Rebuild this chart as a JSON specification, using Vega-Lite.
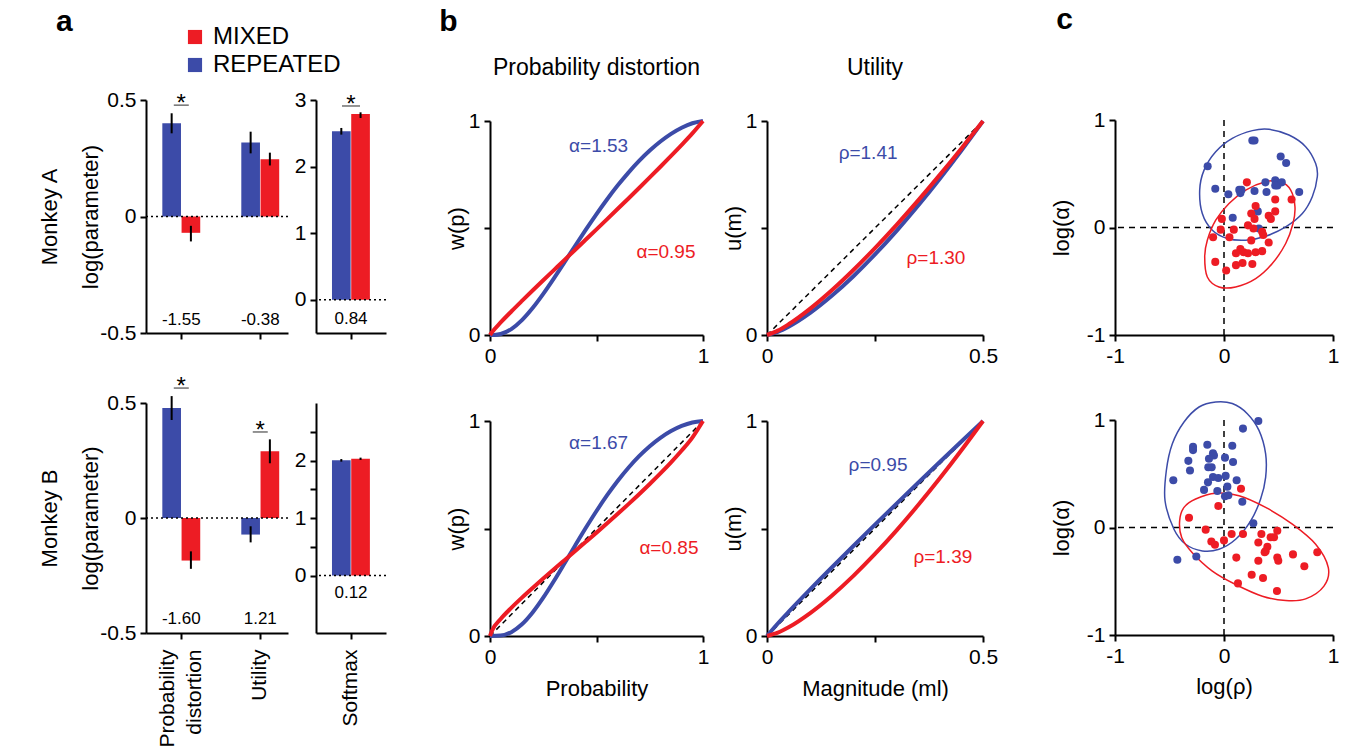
{
"$schema":"https://vega.github.io/schema/vega-lite/v6.json",
"padding":{"left":38,"top":5,"right":4,"bottom":0},
"background":"white",
"config":{
 "font":"Liberation Sans",
 "view":{"stroke":null},
 "axis":{"grid":false,"domainColor":"#000","domainWidth":2,"tickColor":"#000","tickWidth":2,"tickSize":6,"labelFontSize":21,"labelColor":"#000","titleFontSize":22,"titleFontWeight":"normal","titleColor":"#000","labelFlush":false,"labelOverlap":false,"labelPadding":4},
 "title":{"fontWeight":"normal","color":"#000"}
},
"datasets":{
 "pw_top":[
  {"p":0,"w":0,"cond":"REPEATED"},{"p":0.02,"w":0.0003,"cond":"REPEATED"},{"p":0.05,"w":0.0047,"cond":"REPEATED"},{"p":0.1,"w":0.0278,"cond":"REPEATED"},{"p":0.15,"w":0.0697,"cond":"REPEATED"},{"p":0.2,"w":0.1261,"cond":"REPEATED"},{"p":0.25,"w":0.1924,"cond":"REPEATED"},{"p":0.3,"w":0.2648,"cond":"REPEATED"},{"p":0.35,"w":0.3405,"cond":"REPEATED"},{"p":0.4,"w":0.4169,"cond":"REPEATED"},{"p":0.45,"w":0.4923,"cond":"REPEATED"},{"p":0.5,"w":0.5651,"cond":"REPEATED"},{"p":0.55,"w":0.6344,"cond":"REPEATED"},{"p":0.6,"w":0.6993,"cond":"REPEATED"},{"p":0.65,"w":0.759,"cond":"REPEATED"},{"p":0.7,"w":0.8134,"cond":"REPEATED"},{"p":0.75,"w":0.8619,"cond":"REPEATED"},{"p":0.8,"w":0.9041,"cond":"REPEATED"},{"p":0.85,"w":0.9399,"cond":"REPEATED"},{"p":0.9,"w":0.9685,"cond":"REPEATED"},{"p":0.95,"w":0.9894,"cond":"REPEATED"},{"p":1,"w":1,"cond":"REPEATED"},
  {"p":0,"w":0,"cond":"MIXED"},{"p":0.01,"w":0.014,"cond":"MIXED"},{"p":0.05,"w":0.0587,"cond":"MIXED"},{"p":0.1,"w":0.1099,"cond":"MIXED"},{"p":0.15,"w":0.1592,"cond":"MIXED"},{"p":0.2,"w":0.2077,"cond":"MIXED"},{"p":0.25,"w":0.2557,"cond":"MIXED"},{"p":0.3,"w":0.3033,"cond":"MIXED"},{"p":0.35,"w":0.3509,"cond":"MIXED"},{"p":0.4,"w":0.3984,"cond":"MIXED"},{"p":0.45,"w":0.446,"cond":"MIXED"},{"p":0.5,"w":0.4936,"cond":"MIXED"},{"p":0.55,"w":0.5415,"cond":"MIXED"},{"p":0.6,"w":0.5897,"cond":"MIXED"},{"p":0.65,"w":0.6381,"cond":"MIXED"},{"p":0.7,"w":0.6869,"cond":"MIXED"},{"p":0.75,"w":0.7362,"cond":"MIXED"},{"p":0.8,"w":0.7862,"cond":"MIXED"},{"p":0.85,"w":0.8369,"cond":"MIXED"},{"p":0.9,"w":0.8887,"cond":"MIXED"},{"p":0.95,"w":0.9422,"cond":"MIXED"},{"p":1,"w":1,"cond":"MIXED"}
 ],
 "pw_bot":[
  {"p":0,"w":0,"cond":"REPEATED"},{"p":0.05,"w":0.0019,"cond":"REPEATED"},{"p":0.1,"w":0.0178,"cond":"REPEATED"},{"p":0.15,"w":0.0543,"cond":"REPEATED"},{"p":0.2,"w":0.1093,"cond":"REPEATED"},{"p":0.25,"w":0.1781,"cond":"REPEATED"},{"p":0.3,"w":0.2557,"cond":"REPEATED"},{"p":0.35,"w":0.338,"cond":"REPEATED"},{"p":0.4,"w":0.4214,"cond":"REPEATED"},{"p":0.45,"w":0.5032,"cond":"REPEATED"},{"p":0.5,"w":0.5815,"cond":"REPEATED"},{"p":0.55,"w":0.6548,"cond":"REPEATED"},{"p":0.6,"w":0.7221,"cond":"REPEATED"},{"p":0.65,"w":0.7827,"cond":"REPEATED"},{"p":0.7,"w":0.8363,"cond":"REPEATED"},{"p":0.75,"w":0.8827,"cond":"REPEATED"},{"p":0.8,"w":0.9216,"cond":"REPEATED"},{"p":0.85,"w":0.953,"cond":"REPEATED"},{"p":0.9,"w":0.9769,"cond":"REPEATED"},{"p":0.95,"w":0.993,"cond":"REPEATED"},{"p":1,"w":1,"cond":"REPEATED"},
  {"p":0,"w":0,"cond":"MIXED"},{"p":0.01,"w":0.0257,"cond":"MIXED"},{"p":0.05,"w":0.0788,"cond":"MIXED"},{"p":0.1,"w":0.1311,"cond":"MIXED"},{"p":0.15,"w":0.1785,"cond":"MIXED"},{"p":0.2,"w":0.2234,"cond":"MIXED"},{"p":0.25,"w":0.2671,"cond":"MIXED"},{"p":0.3,"w":0.3101,"cond":"MIXED"},{"p":0.35,"w":0.3527,"cond":"MIXED"},{"p":0.4,"w":0.3952,"cond":"MIXED"},{"p":0.45,"w":0.4379,"cond":"MIXED"},{"p":0.5,"w":0.4808,"cond":"MIXED"},{"p":0.55,"w":0.5242,"cond":"MIXED"},{"p":0.6,"w":0.5684,"cond":"MIXED"},{"p":0.65,"w":0.6134,"cond":"MIXED"},{"p":0.7,"w":0.6595,"cond":"MIXED"},{"p":0.75,"w":0.707,"cond":"MIXED"},{"p":0.8,"w":0.7563,"cond":"MIXED"},{"p":0.85,"w":0.8078,"cond":"MIXED"},{"p":0.9,"w":0.8627,"cond":"MIXED"},{"p":0.95,"w":0.923,"cond":"MIXED"},{"p":1,"w":1,"cond":"MIXED"}
 ],
 "um_top":[
  {"m":0,"u":0,"cond":"REPEATED"},{"m":0.025,"u":0.0147,"cond":"REPEATED"},{"m":0.05,"u":0.0389,"cond":"REPEATED"},{"m":0.1,"u":0.1034,"cond":"REPEATED"},{"m":0.15,"u":0.1832,"cond":"REPEATED"},{"m":0.2,"u":0.2747,"cond":"REPEATED"},{"m":0.25,"u":0.3763,"cond":"REPEATED"},{"m":0.3,"u":0.4866,"cond":"REPEATED"},{"m":0.35,"u":0.6047,"cond":"REPEATED"},{"m":0.4,"u":0.7301,"cond":"REPEATED"},{"m":0.45,"u":0.8619,"cond":"REPEATED"},{"m":0.5,"u":1,"cond":"REPEATED"},
  {"m":0,"u":0,"cond":"MIXED"},{"m":0.025,"u":0.0204,"cond":"MIXED"},{"m":0.05,"u":0.0501,"cond":"MIXED"},{"m":0.1,"u":0.1234,"cond":"MIXED"},{"m":0.15,"u":0.209,"cond":"MIXED"},{"m":0.2,"u":0.3039,"cond":"MIXED"},{"m":0.25,"u":0.4061,"cond":"MIXED"},{"m":0.3,"u":0.5148,"cond":"MIXED"},{"m":0.35,"u":0.629,"cond":"MIXED"},{"m":0.4,"u":0.7482,"cond":"MIXED"},{"m":0.45,"u":0.872,"cond":"MIXED"},{"m":0.5,"u":1,"cond":"MIXED"}
 ],
 "um_bot":[
  {"m":0,"u":0,"cond":"REPEATED"},{"m":0.025,"u":0.0581,"cond":"REPEATED"},{"m":0.05,"u":0.1122,"cond":"REPEATED"},{"m":0.1,"u":0.2168,"cond":"REPEATED"},{"m":0.15,"u":0.3186,"cond":"REPEATED"},{"m":0.2,"u":0.4187,"cond":"REPEATED"},{"m":0.25,"u":0.5177,"cond":"REPEATED"},{"m":0.3,"u":0.6155,"cond":"REPEATED"},{"m":0.35,"u":0.7126,"cond":"REPEATED"},{"m":0.4,"u":0.809,"cond":"REPEATED"},{"m":0.45,"u":0.9047,"cond":"REPEATED"},{"m":0.5,"u":1,"cond":"REPEATED"},
  {"m":0,"u":0,"cond":"MIXED"},{"m":0.025,"u":0.0156,"cond":"MIXED"},{"m":0.05,"u":0.0407,"cond":"MIXED"},{"m":0.1,"u":0.1068,"cond":"MIXED"},{"m":0.15,"u":0.1876,"cond":"MIXED"},{"m":0.2,"u":0.2798,"cond":"MIXED"},{"m":0.25,"u":0.3816,"cond":"MIXED"},{"m":0.3,"u":0.4916,"cond":"MIXED"},{"m":0.35,"u":0.6091,"cond":"MIXED"},{"m":0.4,"u":0.7334,"cond":"MIXED"},{"m":0.45,"u":0.8637,"cond":"MIXED"},{"m":0.5,"u":1,"cond":"MIXED"}
 ],
 "sc_top":[
  {"x":0.26,"y":0.81,"cond":"REPEATED"},{"x":0.28,"y":0.81,"cond":"REPEATED"},{"x":-0.15,"y":0.57,"cond":"REPEATED"},{"x":0.52,"y":0.66,"cond":"REPEATED"},{"x":0.57,"y":0.6,"cond":"REPEATED"},{"x":-0.08,"y":0.36,"cond":"REPEATED"},{"x":0.04,"y":0.31,"cond":"REPEATED"},{"x":0.14,"y":0.35,"cond":"REPEATED"},{"x":0.16,"y":0.35,"cond":"REPEATED"},{"x":0.15,"y":0.32,"cond":"REPEATED"},{"x":0.28,"y":0.34,"cond":"REPEATED"},{"x":0.38,"y":0.42,"cond":"REPEATED"},{"x":0.39,"y":0.33,"cond":"REPEATED"},{"x":0.47,"y":0.44,"cond":"REPEATED"},{"x":0.49,"y":0.39,"cond":"REPEATED"},{"x":0.53,"y":0.42,"cond":"REPEATED"},{"x":0.47,"y":0.39,"cond":"REPEATED"},{"x":0.69,"y":0.33,"cond":"REPEATED"},{"x":0.08,"y":0.09,"cond":"REPEATED"},{"x":0.31,"y":0.15,"cond":"REPEATED"},{"x":0.32,"y":-0.01,"cond":"REPEATED"},
  {"x":0.21,"y":0.42,"cond":"MIXED"},{"x":0.47,"y":0.26,"cond":"MIXED"},{"x":0.62,"y":0.26,"cond":"MIXED"},{"x":0.29,"y":0.2,"cond":"MIXED"},{"x":0.25,"y":0.13,"cond":"MIXED"},{"x":-0.02,"y":0.08,"cond":"MIXED"},{"x":0.41,"y":0.11,"cond":"MIXED"},{"x":0.47,"y":0.15,"cond":"MIXED"},{"x":0.43,"y":0.08,"cond":"MIXED"},{"x":0.28,"y":0.08,"cond":"MIXED"},{"x":0.22,"y":0.02,"cond":"MIXED"},{"x":0.27,"y":-0.01,"cond":"MIXED"},{"x":-0.03,"y":-0.02,"cond":"MIXED"},{"x":0.09,"y":-0.02,"cond":"MIXED"},{"x":-0.1,"y":-0.09,"cond":"MIXED"},{"x":0.05,"y":-0.09,"cond":"MIXED"},{"x":0.35,"y":-0.04,"cond":"MIXED"},{"x":0.36,"y":-0.07,"cond":"MIXED"},{"x":0.25,"y":-0.12,"cond":"MIXED"},{"x":0.41,"y":-0.14,"cond":"MIXED"},{"x":0.15,"y":-0.2,"cond":"MIXED"},{"x":0.11,"y":-0.24,"cond":"MIXED"},{"x":0.18,"y":-0.23,"cond":"MIXED"},{"x":0.22,"y":-0.24,"cond":"MIXED"},{"x":0.29,"y":-0.23,"cond":"MIXED"},{"x":0.35,"y":-0.22,"cond":"MIXED"},{"x":-0.08,"y":-0.32,"cond":"MIXED"},{"x":0.02,"y":-0.4,"cond":"MIXED"},{"x":0.11,"y":-0.35,"cond":"MIXED"},{"x":0.17,"y":-0.33,"cond":"MIXED"},{"x":0.26,"y":-0.34,"cond":"MIXED"}
 ],
 "sc_bot":[
  {"x":0.315,"y":0.99,"cond":"REPEATED"},{"x":0.174,"y":0.92,"cond":"REPEATED"},{"x":-0.153,"y":0.77,"cond":"REPEATED"},{"x":0.076,"y":0.76,"cond":"REPEATED"},{"x":-0.284,"y":0.75,"cond":"REPEATED"},{"x":-0.284,"y":0.72,"cond":"REPEATED"},{"x":-0.101,"y":0.69,"cond":"REPEATED"},{"x":-0.092,"y":0.67,"cond":"REPEATED"},{"x":-0.138,"y":0.64,"cond":"REPEATED"},{"x":0.009,"y":0.65,"cond":"REPEATED"},{"x":-0.327,"y":0.62,"cond":"REPEATED"},{"x":0.083,"y":0.61,"cond":"REPEATED"},{"x":-0.144,"y":0.56,"cond":"REPEATED"},{"x":-0.113,"y":0.56,"cond":"REPEATED"},{"x":-0.312,"y":0.53,"cond":"REPEATED"},{"x":-0.101,"y":0.47,"cond":"REPEATED"},{"x":-0.052,"y":0.46,"cond":"REPEATED"},{"x":0.015,"y":0.48,"cond":"REPEATED"},{"x":-0.147,"y":0.42,"cond":"REPEATED"},{"x":-0.465,"y":0.44,"cond":"REPEATED"},{"x":0.116,"y":0.44,"cond":"REPEATED"},{"x":0.031,"y":0.38,"cond":"REPEATED"},{"x":-0.183,"y":0.35,"cond":"REPEATED"},{"x":-0.061,"y":0.34,"cond":"REPEATED"},{"x":0.009,"y":0.29,"cond":"REPEATED"},{"x":0.04,"y":0.3,"cond":"REPEATED"},{"x":0.168,"y":0.24,"cond":"REPEATED"},{"x":0.269,"y":0.04,"cond":"REPEATED"},{"x":-0.428,"y":-0.3,"cond":"REPEATED"},{"x":-0.254,"y":-0.27,"cond":"REPEATED"},
  {"x":0.156,"y":0.36,"cond":"MIXED"},{"x":-0.052,"y":0.2,"cond":"MIXED"},{"x":-0.321,"y":0.09,"cond":"MIXED"},{"x":-0.168,"y":-0.02,"cond":"MIXED"},{"x":0.07,"y":-0.06,"cond":"MIXED"},{"x":0.174,"y":-0.06,"cond":"MIXED"},{"x":-0.116,"y":-0.13,"cond":"MIXED"},{"x":-0.083,"y":-0.16,"cond":"MIXED"},{"x":0.0,"y":-0.12,"cond":"MIXED"},{"x":0.343,"y":-0.06,"cond":"MIXED"},{"x":0.489,"y":-0.03,"cond":"MIXED"},{"x":0.428,"y":-0.09,"cond":"MIXED"},{"x":0.459,"y":-0.09,"cond":"MIXED"},{"x":0.315,"y":-0.14,"cond":"MIXED"},{"x":0.398,"y":-0.18,"cond":"MIXED"},{"x":0.382,"y":-0.22,"cond":"MIXED"},{"x":0.373,"y":-0.23,"cond":"MIXED"},{"x":0.113,"y":-0.28,"cond":"MIXED"},{"x":0.315,"y":-0.31,"cond":"MIXED"},{"x":0.489,"y":-0.28,"cond":"MIXED"},{"x":0.498,"y":-0.31,"cond":"MIXED"},{"x":0.633,"y":-0.25,"cond":"MIXED"},{"x":0.856,"y":-0.23,"cond":"MIXED"},{"x":0.737,"y":-0.36,"cond":"MIXED"},{"x":0.254,"y":-0.44,"cond":"MIXED"},{"x":0.358,"y":-0.47,"cond":"MIXED"},{"x":0.128,"y":-0.52,"cond":"MIXED"},{"x":0.486,"y":-0.59,"cond":"MIXED"}
 ],
 "ell_top":[
  {"i":0,"x":-0.223,"y":0.348,"cond":"REPEATED"},{"i":1,"x":-0.183,"y":0.534,"cond":"REPEATED"},{"i":2,"x":-0.076,"y":0.705,"cond":"REPEATED"},{"i":3,"x":0.076,"y":0.829,"cond":"REPEATED"},{"i":4,"x":0.26,"y":0.901,"cond":"REPEATED"},{"i":5,"x":0.413,"y":0.913,"cond":"REPEATED"},{"i":6,"x":0.596,"y":0.86,"cond":"REPEATED"},{"i":7,"x":0.749,"y":0.752,"cond":"REPEATED"},{"i":8,"x":0.841,"y":0.596,"cond":"REPEATED"},{"i":9,"x":0.856,"y":0.472,"cond":"REPEATED"},{"i":10,"x":0.81,"y":0.286,"cond":"REPEATED"},{"i":11,"x":0.719,"y":0.13,"cond":"REPEATED"},{"i":12,"x":0.566,"y":0.006,"cond":"REPEATED"},{"i":13,"x":0.382,"y":-0.081,"cond":"REPEATED"},{"i":14,"x":0.199,"y":-0.118,"cond":"REPEATED"},{"i":15,"x":0.031,"y":-0.102,"cond":"REPEATED"},{"i":16,"x":-0.107,"y":-0.025,"cond":"REPEATED"},{"i":17,"x":-0.199,"y":0.13,"cond":"REPEATED"},
  {"i":0,"x":-0.177,"y":-0.273,"cond":"MIXED"},{"i":1,"x":-0.153,"y":-0.118,"cond":"MIXED"},{"i":2,"x":-0.076,"y":0.068,"cond":"MIXED"},{"i":3,"x":0.046,"y":0.224,"cond":"MIXED"},{"i":4,"x":0.199,"y":0.348,"cond":"MIXED"},{"i":5,"x":0.382,"y":0.425,"cond":"MIXED"},{"i":6,"x":0.52,"y":0.425,"cond":"MIXED"},{"i":7,"x":0.612,"y":0.348,"cond":"MIXED"},{"i":8,"x":0.651,"y":0.193,"cond":"MIXED"},{"i":9,"x":0.633,"y":0.037,"cond":"MIXED"},{"i":10,"x":0.566,"y":-0.149,"cond":"MIXED"},{"i":11,"x":0.443,"y":-0.335,"cond":"MIXED"},{"i":12,"x":0.291,"y":-0.475,"cond":"MIXED"},{"i":13,"x":0.107,"y":-0.553,"cond":"MIXED"},{"i":14,"x":-0.046,"y":-0.553,"cond":"MIXED"},{"i":15,"x":-0.153,"y":-0.46,"cond":"MIXED"}
 ],
 "ell_bot":[
  {"i":0,"x":-0.541,"y":0.249,"cond":"REPEATED"},{"i":1,"x":-0.529,"y":0.53,"cond":"REPEATED"},{"i":2,"x":-0.474,"y":0.779,"cond":"REPEATED"},{"i":3,"x":-0.367,"y":0.981,"cond":"REPEATED"},{"i":4,"x":-0.229,"y":1.121,"cond":"REPEATED"},{"i":5,"x":-0.076,"y":1.168,"cond":"REPEATED"},{"i":6,"x":0.076,"y":1.153,"cond":"REPEATED"},{"i":7,"x":0.214,"y":1.059,"cond":"REPEATED"},{"i":8,"x":0.321,"y":0.903,"cond":"REPEATED"},{"i":9,"x":0.382,"y":0.685,"cond":"REPEATED"},{"i":10,"x":0.382,"y":0.467,"cond":"REPEATED"},{"i":11,"x":0.336,"y":0.265,"cond":"REPEATED"},{"i":12,"x":0.245,"y":0.062,"cond":"REPEATED"},{"i":13,"x":0.107,"y":-0.109,"cond":"REPEATED"},{"i":14,"x":-0.046,"y":-0.202,"cond":"REPEATED"},{"i":15,"x":-0.199,"y":-0.218,"cond":"REPEATED"},{"i":16,"x":-0.352,"y":-0.156,"cond":"REPEATED"},{"i":17,"x":-0.459,"y":-0.016,"cond":"REPEATED"},
  {"i":0,"x":-0.407,"y":0.062,"cond":"MIXED"},{"i":1,"x":-0.367,"y":0.187,"cond":"MIXED"},{"i":2,"x":-0.26,"y":0.265,"cond":"MIXED"},{"i":3,"x":-0.076,"y":0.318,"cond":"MIXED"},{"i":4,"x":0.138,"y":0.296,"cond":"MIXED"},{"i":5,"x":0.382,"y":0.187,"cond":"MIXED"},{"i":6,"x":0.627,"y":0.031,"cond":"MIXED"},{"i":7,"x":0.841,"y":-0.156,"cond":"MIXED"},{"i":8,"x":0.957,"y":-0.374,"cond":"MIXED"},{"i":9,"x":0.917,"y":-0.545,"cond":"MIXED"},{"i":10,"x":0.749,"y":-0.664,"cond":"MIXED"},{"i":11,"x":0.566,"y":-0.679,"cond":"MIXED"},{"i":12,"x":0.352,"y":-0.639,"cond":"MIXED"},{"i":13,"x":0.107,"y":-0.53,"cond":"MIXED"},{"i":14,"x":-0.107,"y":-0.405,"cond":"MIXED"},{"i":15,"x":-0.291,"y":-0.234,"cond":"MIXED"},{"i":16,"x":-0.388,"y":-0.093,"cond":"MIXED"}
 ]
},
"columns":3,
"align":"none",
"spacing":52,
"concat":[
 {
  "spacing":32,
  "vconcat":[
   {"hconcat":[
     {"width":142,"height":233,
      "title":{"text":"a","anchor":"start","frame":"group","fontSize":30,"fontWeight":"bold","dx":-90,"offset":-12},
      "data":{"values":[{"param":"PD","cond":"REPEATED","value":0.40,"lo":0.357,"hi":0.443},{"param":"PD","cond":"MIXED","value":-0.07,"lo":-0.107,"hi":-0.04},{"param":"Utility","cond":"REPEATED","value":0.318,"lo":0.271,"hi":0.364},{"param":"Utility","cond":"MIXED","value":0.246,"lo":0.219,"hi":0.274}]},
      "layer":[
       {"mark":{"type":"bar"},
        "encoding":{
         "x":{"field":"param","type":"nominal","scale":{"domain":["PD","Utility"],"paddingInner":0.52,"paddingOuter":0.159,"align":0.65},"axis":{"labels":false,"title":null}},
         "xOffset":{"field":"cond","type":"nominal","scale":{"domain":["REPEATED","MIXED"],"paddingInner":0.03}},
         "y":{"field":"value","type":"quantitative","scale":{"domain":[-0.5,0.5]},"axis":{"values":[-0.5,0,0.5],"labelExpr":"toString(datum.value)","title":["Monkey A","log(parameter)"],"titleLineHeight":41,"titlePadding":-3}},
         "fill":{"field":"cond","type":"nominal","scale":{"domain":["MIXED","REPEATED"],"range":["#ED1C24","#3C4BA8"]},"legend":{"orient":"none","legendX":37,"legendY":-75,"title":null,"symbolType":"square","symbolSize":200,"labelFontSize":24,"rowPadding":4,"labelOffset":6,"symbolStrokeWidth":0,"padding":0,"direction":"vertical"}}
        }},
       {"mark":{"type":"rule","color":"black","strokeWidth":2},
        "encoding":{"x":{"field":"param","type":"nominal"},"xOffset":{"field":"cond","type":"nominal"},"y":{"field":"lo","type":"quantitative"},"y2":{"field":"hi"}}},
       {"data":{"values":[{}]},"mark":{"type":"rule","color":"black","strokeWidth":1.5,"strokeDash":[2,3]},"encoding":{"y":{"datum":0,"type":"quantitative"}}},
       {"data":{"values":[{"param":"PD","stat":"-1.55"},{"param":"Utility","stat":"-0.38"}]},"mark":{"type":"text","fontSize":17,"baseline":"middle"},"encoding":{"x":{"field":"param","type":"nominal"},"y":{"datum":-0.443,"type":"quantitative"},"text":{"field":"stat"}}},
       {"data":{"values":[{"param":"PD","sig":0.478}]},"mark":{"type":"tick","size":15,"thickness":1.2,"color":"black"},"encoding":{"x":{"field":"param","type":"nominal"},"y":{"field":"sig","type":"quantitative"}}},
       {"data":{"values":[{"param":"PD","sig":0.478}]},"mark":{"type":"text","text":"*","fontSize":24,"baseline":"alphabetic","dy":6},"encoding":{"x":{"field":"param","type":"nominal"},"y":{"field":"sig","type":"quantitative"}}}
      ]},
     {"width":70,"height":233,
      "data":{"values":[{"param":"Softmax","cond":"REPEATED","value":2.53,"lo":2.48,"hi":2.58},{"param":"Softmax","cond":"MIXED","value":2.79,"lo":2.73,"hi":2.815}]},
      "layer":[
       {"mark":{"type":"bar"},
        "encoding":{
         "x":{"field":"param","type":"nominal","scale":{"domain":["Softmax"],"paddingInner":0,"paddingOuter":0.42},"axis":{"labels":false,"title":null}},
         "xOffset":{"field":"cond","type":"nominal","scale":{"domain":["REPEATED","MIXED"],"paddingInner":0.03}},
         "y":{"field":"value","type":"quantitative","scale":{"domain":[-0.5,3]},"axis":{"values":[0,0.5,1,1.5,2,2.5,3],"labelExpr":"datum.value % 1 == 0 ? toString(datum.value) : ''","title":null}},
         "color":{"field":"cond","type":"nominal","scale":{"domain":["MIXED","REPEATED"],"range":["#ED1C24","#3C4BA8"]},"legend":null}
        }},
       {"mark":{"type":"rule","color":"black","strokeWidth":2},
        "encoding":{"x":{"field":"param","type":"nominal"},"xOffset":{"field":"cond","type":"nominal"},"y":{"field":"lo","type":"quantitative"},"y2":{"field":"hi"}}},
       {"data":{"values":[{}]},"mark":{"type":"rule","color":"black","strokeWidth":1.5,"strokeDash":[2,3]},"encoding":{"y":{"datum":0,"type":"quantitative"}}},
       {"data":{"values":[{"param":"Softmax","stat":"0.84"}]},"mark":{"type":"text","fontSize":17,"baseline":"middle"},"encoding":{"x":{"field":"param","type":"nominal"},"y":{"datum":-0.285,"type":"quantitative"},"text":{"field":"stat"}}},
       {"data":{"values":[{"param":"Softmax","sig":2.91}]},"mark":{"type":"tick","size":18,"thickness":1.2,"color":"black"},"encoding":{"x":{"field":"param","type":"nominal"},"y":{"field":"sig","type":"quantitative"}}},
       {"data":{"values":[{"param":"Softmax","sig":2.91}]},"mark":{"type":"text","text":"*","fontSize":24,"baseline":"alphabetic","dy":6},"encoding":{"x":{"field":"param","type":"nominal"},"y":{"field":"sig","type":"quantitative"}}}
      ]}
    ],
    "bounds":"flush","spacing":28,
    "resolve":{"scale":{"fill":"independent"},"legend":{"fill":"independent"}}},
   {"hconcat":[
     {"width":142,"height":230,
      "data":{"values":[{"param":"PD","cond":"REPEATED","value":0.478,"lo":0.426,"hi":0.53},{"param":"PD","cond":"MIXED","value":-0.185,"lo":-0.221,"hi":-0.145},{"param":"Utility","cond":"REPEATED","value":-0.072,"lo":-0.106,"hi":-0.036},{"param":"Utility","cond":"MIXED","value":0.29,"lo":0.238,"hi":0.342}]},
      "layer":[
       {"mark":{"type":"bar"},
        "encoding":{
         "x":{"field":"param","type":"nominal","scale":{"domain":["PD","Utility"],"paddingInner":0.52,"paddingOuter":0.159,"align":0.65},"axis":{"title":null,"labelAngle":-90,"labelExpr":"datum.value == 'PD' ? ['Probability','distortion'] : datum.value","labelLineHeight":27,"labelPadding":10,"labelOffset":{"condition":{"test":"datum.value == 'PD'","value":-13},"value":0}}},
         "xOffset":{"field":"cond","type":"nominal","scale":{"domain":["REPEATED","MIXED"],"paddingInner":0.03}},
         "y":{"field":"value","type":"quantitative","scale":{"domain":[-0.5,0.5]},"axis":{"values":[-0.5,0,0.5],"labelExpr":"toString(datum.value)","title":["Monkey B","log(parameter)"],"titleLineHeight":41,"titlePadding":-3}},
         "color":{"field":"cond","type":"nominal","scale":{"domain":["MIXED","REPEATED"],"range":["#ED1C24","#3C4BA8"]},"legend":null}
        }},
       {"mark":{"type":"rule","color":"black","strokeWidth":2},
        "encoding":{"x":{"field":"param","type":"nominal"},"xOffset":{"field":"cond","type":"nominal"},"y":{"field":"lo","type":"quantitative"},"y2":{"field":"hi"}}},
       {"data":{"values":[{}]},"mark":{"type":"rule","color":"black","strokeWidth":1.5,"strokeDash":[2,3]},"encoding":{"y":{"datum":0,"type":"quantitative"}}},
       {"data":{"values":[{"param":"PD","stat":"-1.60"},{"param":"Utility","stat":"1.21"}]},"mark":{"type":"text","fontSize":17,"baseline":"middle"},"encoding":{"x":{"field":"param","type":"nominal"},"y":{"datum":-0.438,"type":"quantitative"},"text":{"field":"stat"}}},
       {"data":{"values":[{"param":"PD","sig":0.565},{"param":"Utility","sig":0.374}]},"mark":{"type":"tick","size":15,"thickness":1.2,"color":"black"},"encoding":{"x":{"field":"param","type":"nominal"},"y":{"field":"sig","type":"quantitative"}}},
       {"data":{"values":[{"param":"PD","sig":0.565},{"param":"Utility","sig":0.374}]},"mark":{"type":"text","text":"*","fontSize":24,"baseline":"alphabetic","dy":6},"encoding":{"x":{"field":"param","type":"nominal"},"y":{"field":"sig","type":"quantitative"}}}
      ]},
     {"width":70,"height":230,
      "data":{"values":[{"param":"Softmax","cond":"REPEATED","value":2.005,"lo":1.98,"hi":2.025},{"param":"Softmax","cond":"MIXED","value":2.03,"lo":2.01,"hi":2.05}]},
      "layer":[
       {"mark":{"type":"bar"},
        "encoding":{
         "x":{"field":"param","type":"nominal","scale":{"domain":["Softmax"],"paddingInner":0,"paddingOuter":0.42},"axis":{"title":null,"labelAngle":-90,"labelPadding":10}},
         "xOffset":{"field":"cond","type":"nominal","scale":{"domain":["REPEATED","MIXED"],"paddingInner":0.03}},
         "y":{"field":"value","type":"quantitative","scale":{"domain":[-0.5,2.5]},"axis":{"values":[0,0.5,1,1.5,2,2.5],"labelExpr":"datum.value % 1 == 0 ? toString(datum.value) : ''","title":null}},
         "color":{"field":"cond","type":"nominal","scale":{"domain":["MIXED","REPEATED"],"range":["#ED1C24","#3C4BA8"]},"legend":null}
        }},
       {"mark":{"type":"rule","color":"black","strokeWidth":2},
        "encoding":{"x":{"field":"param","type":"nominal"},"xOffset":{"field":"cond","type":"nominal"},"y":{"field":"lo","type":"quantitative"},"y2":{"field":"hi"}}},
       {"data":{"values":[{}]},"mark":{"type":"rule","color":"black","strokeWidth":1.5,"strokeDash":[2,3]},"encoding":{"y":{"datum":0,"type":"quantitative"}}},
       {"data":{"values":[{"param":"Softmax","stat":"0.12"}]},"mark":{"type":"text","fontSize":17,"baseline":"middle"},"encoding":{"x":{"field":"param","type":"nominal"},"y":{"datum":-0.31,"type":"quantitative"},"text":{"field":"stat"}}}
      ]}
    ],
    "bounds":"flush","spacing":28}
  ]
 },
 {
  "title":{"text":"b","anchor":"start","fontSize":30,"fontWeight":"bold","dx":-6,"offset":20},
  "spacing":44,
  "vconcat":[
   {"hconcat":[
     {"width":213,"height":235,
      "title":{"text":"Probability distortion","fontSize":23,"fontWeight":"normal","offset":20},
      "layer":[
       {"data":{"name":"pw_top"},"transform":[{"filter":"datum.cond == 'REPEATED'"}],"mark":{"type":"line","strokeWidth":4,"interpolate":"monotone"},
        "encoding":{"x":{"field":"p","type":"quantitative","scale":{"domain":[0,1]},"axis":{"values":[0,0.5,1],"labelExpr":"datum.value == 0.5 ? '' : toString(datum.value)","title":null}},
                    "y":{"field":"w","type":"quantitative","scale":{"domain":[0,1],"range":[235,21]},"axis":{"values":[0,0.5,1],"labelExpr":"datum.value == 0.5 ? '' : toString(datum.value)","title":"w(p)","titlePadding":0}},
                    "color":{"field":"cond","type":"nominal","scale":{"domain":["MIXED","REPEATED"],"range":["#ED1C24","#3C4BA8"]},"legend":null}}},
       {"data":{"name":"pw_top"},"transform":[{"filter":"datum.cond == 'MIXED'"}],"mark":{"type":"line","strokeWidth":4,"interpolate":"monotone"},
        "encoding":{"x":{"field":"p","type":"quantitative"},"y":{"field":"w","type":"quantitative"},"color":{"field":"cond","type":"nominal","scale":{"domain":["MIXED","REPEATED"],"range":["#ED1C24","#3C4BA8"]},"legend":null}}},
       {"data":{"values":[{}]},"mark":{"type":"text","text":"α=1.53","fontSize":19,"color":"#3C4BA8"},"encoding":{"x":{"datum":0.51,"type":"quantitative"},"y":{"datum":0.883,"type":"quantitative"}}},
       {"data":{"values":[{}]},"mark":{"type":"text","text":"α=0.95","fontSize":19,"color":"#ED1C24"},"encoding":{"x":{"datum":0.826,"type":"quantitative"},"y":{"datum":0.388,"type":"quantitative"}}}
      ]},
     {"width":216,"height":235,
      "title":{"text":"Utility","fontSize":23,"fontWeight":"normal","offset":20},
      "layer":[
       {"data":{"values":[{"m":0,"u":0},{"m":0.5,"u":1}]},"mark":{"type":"line","color":"black","strokeWidth":1.5,"strokeDash":[5,4]},
        "encoding":{"x":{"field":"m","type":"quantitative","scale":{"domain":[0,0.5]},"axis":{"values":[0,0.25,0.5],"labelExpr":"datum.value == 0.25 ? '' : toString(datum.value)","title":null}},
                    "y":{"field":"u","type":"quantitative","scale":{"domain":[0,1],"range":[235,21]},"axis":{"values":[0,0.5,1],"labelExpr":"datum.value == 0.5 ? '' : toString(datum.value)","title":"u(m)","titlePadding":0}}}},
       {"data":{"name":"um_top"},"transform":[{"filter":"datum.cond == 'REPEATED'"}],"mark":{"type":"line","strokeWidth":4,"interpolate":"monotone"},
        "encoding":{"x":{"field":"m","type":"quantitative"},"y":{"field":"u","type":"quantitative"},"color":{"field":"cond","type":"nominal","scale":{"domain":["MIXED","REPEATED"],"range":["#ED1C24","#3C4BA8"]},"legend":null}}},
       {"data":{"name":"um_top"},"transform":[{"filter":"datum.cond == 'MIXED'"}],"mark":{"type":"line","strokeWidth":4,"interpolate":"monotone"},
        "encoding":{"x":{"field":"m","type":"quantitative"},"y":{"field":"u","type":"quantitative"},"color":{"field":"cond","type":"nominal","scale":{"domain":["MIXED","REPEATED"],"range":["#ED1C24","#3C4BA8"]},"legend":null}}},
       {"data":{"values":[{}]},"mark":{"type":"text","text":"ρ=1.41","fontSize":19,"color":"#3C4BA8"},"encoding":{"x":{"datum":0.234,"type":"quantitative"},"y":{"datum":0.85,"type":"quantitative"}}},
       {"data":{"values":[{}]},"mark":{"type":"text","text":"ρ=1.30","fontSize":19,"color":"#ED1C24"},"encoding":{"x":{"datum":0.391,"type":"quantitative"},"y":{"datum":0.36,"type":"quantitative"}}}
      ]}
    ],"bounds":"flush","spacing":64},
   {"hconcat":[
     {"width":213,"height":215,
      "layer":[
       {"data":{"values":[{"p":0,"w":0},{"p":1,"w":1}]},"mark":{"type":"line","color":"black","strokeWidth":1.5,"strokeDash":[5,4]},
        "encoding":{"x":{"field":"p","type":"quantitative","scale":{"domain":[0,1]},"axis":{"values":[0,0.5,1],"labelExpr":"datum.value == 0.5 ? '' : toString(datum.value)","title":"Probability","titlePadding":11}},
                    "y":{"field":"w","type":"quantitative","scale":{"domain":[0,1]},"axis":{"values":[0,0.5,1],"labelExpr":"datum.value == 0.5 ? '' : toString(datum.value)","title":"w(p)","titlePadding":0}}}},
       {"data":{"name":"pw_bot"},"transform":[{"filter":"datum.cond == 'REPEATED'"}],"mark":{"type":"line","strokeWidth":4,"interpolate":"monotone"},
        "encoding":{"x":{"field":"p","type":"quantitative"},"y":{"field":"w","type":"quantitative"},"color":{"field":"cond","type":"nominal","scale":{"domain":["MIXED","REPEATED"],"range":["#ED1C24","#3C4BA8"]},"legend":null}}},
       {"data":{"name":"pw_bot"},"transform":[{"filter":"datum.cond == 'MIXED'"}],"mark":{"type":"line","strokeWidth":4,"interpolate":"monotone"},
        "encoding":{"x":{"field":"p","type":"quantitative"},"y":{"field":"w","type":"quantitative"},"color":{"field":"cond","type":"nominal","scale":{"domain":["MIXED","REPEATED"],"range":["#ED1C24","#3C4BA8"]},"legend":null}}},
       {"data":{"values":[{}]},"mark":{"type":"text","text":"α=1.67","fontSize":19,"color":"#3C4BA8"},"encoding":{"x":{"datum":0.51,"type":"quantitative"},"y":{"datum":0.898,"type":"quantitative"}}},
       {"data":{"values":[{}]},"mark":{"type":"text","text":"α=0.85","fontSize":19,"color":"#ED1C24"},"encoding":{"x":{"datum":0.84,"type":"quantitative"},"y":{"datum":0.41,"type":"quantitative"}}}
      ]},
     {"width":216,"height":215,
      "layer":[
       {"data":{"values":[{"m":0,"u":0},{"m":0.5,"u":1}]},"mark":{"type":"line","color":"black","strokeWidth":1.5,"strokeDash":[5,4]},
        "encoding":{"x":{"field":"m","type":"quantitative","scale":{"domain":[0,0.5]},"axis":{"values":[0,0.25,0.5],"labelExpr":"datum.value == 0.25 ? '' : toString(datum.value)","title":"Magnitude (ml)","titlePadding":11}},
                    "y":{"field":"u","type":"quantitative","scale":{"domain":[0,1]},"axis":{"values":[0,0.5,1],"labelExpr":"datum.value == 0.5 ? '' : toString(datum.value)","title":"u(m)","titlePadding":0}}}},
       {"data":{"name":"um_bot"},"transform":[{"filter":"datum.cond == 'REPEATED'"}],"mark":{"type":"line","strokeWidth":4,"interpolate":"monotone"},
        "encoding":{"x":{"field":"m","type":"quantitative"},"y":{"field":"u","type":"quantitative"},"color":{"field":"cond","type":"nominal","scale":{"domain":["MIXED","REPEATED"],"range":["#ED1C24","#3C4BA8"]},"legend":null}}},
       {"data":{"name":"um_bot"},"transform":[{"filter":"datum.cond == 'MIXED'"}],"mark":{"type":"line","strokeWidth":4,"interpolate":"monotone"},
        "encoding":{"x":{"field":"m","type":"quantitative"},"y":{"field":"u","type":"quantitative"},"color":{"field":"cond","type":"nominal","scale":{"domain":["MIXED","REPEATED"],"range":["#ED1C24","#3C4BA8"]},"legend":null}}},
       {"data":{"values":[{}]},"mark":{"type":"text","text":"ρ=0.95","fontSize":19,"color":"#3C4BA8"},"encoding":{"x":{"datum":0.257,"type":"quantitative"},"y":{"datum":0.795,"type":"quantitative"}}},
       {"data":{"values":[{}]},"mark":{"type":"text","text":"ρ=1.39","fontSize":19,"color":"#ED1C24"},"encoding":{"x":{"datum":0.407,"type":"quantitative"},"y":{"datum":0.367,"type":"quantitative"}}}
      ]}
    ],"bounds":"flush","spacing":64}
  ]
 },
 {
  "title":{"text":"c","anchor":"start","fontSize":30,"fontWeight":"bold","dx":6,"offset":65},
  "spacing":32,
  "vconcat":[
   {"width":218,"height":235,
    "layer":[
     {"data":{"values":[{}]},"mark":{"type":"rule","color":"black","strokeWidth":1.5,"strokeDash":[6,5]},"encoding":{"x":{"datum":0,"type":"quantitative","scale":{"domain":[-1,1]},"axis":{"values":[-1,0,1],"labelExpr":"toString(datum.value)","title":null}},"y":{"datum":-1,"type":"quantitative","scale":{"domain":[-1,1],"range":[235,20]},"axis":{"values":[-1,0,1],"labelExpr":"toString(datum.value)","title":"log(α)","titlePadding":13}},"y2":{"datum":1}}},
     {"data":{"values":[{}]},"mark":{"type":"rule","color":"black","strokeWidth":1.5,"strokeDash":[6,5]},"encoding":{"y":{"datum":0,"type":"quantitative"}}},
     {"data":{"name":"ell_top"},"mark":{"type":"line","strokeWidth":1.5,"interpolate":"cardinal-closed"},
      "encoding":{"x":{"field":"x","type":"quantitative"},"y":{"field":"y","type":"quantitative"},"order":{"field":"i","type":"quantitative"},"color":{"field":"cond","type":"nominal","scale":{"domain":["MIXED","REPEATED"],"range":["#ED1C24","#3C4BA8"]},"legend":null}}},
     {"data":{"name":"sc_top"},"mark":{"type":"point","filled":true,"size":65,"opacity":1},
      "encoding":{"x":{"field":"x","type":"quantitative"},"y":{"field":"y","type":"quantitative"},"color":{"field":"cond","type":"nominal","scale":{"domain":["MIXED","REPEATED"],"range":["#ED1C24","#3C4BA8"]},"legend":null}}}
    ]},
   {"width":218,"height":215,
    "layer":[
     {"data":{"values":[{}]},"mark":{"type":"rule","color":"black","strokeWidth":1.5,"strokeDash":[6,5]},"encoding":{"x":{"datum":0,"type":"quantitative","scale":{"domain":[-1,1]},"axis":{"values":[-1,0,1],"labelExpr":"toString(datum.value)","title":"log(ρ)","titlePadding":10}}}},
     {"data":{"values":[{}]},"mark":{"type":"rule","color":"black","strokeWidth":1.5,"strokeDash":[6,5]},"encoding":{"y":{"datum":0,"type":"quantitative","scale":{"domain":[-1,1]},"axis":{"values":[-1,0,1],"labelExpr":"toString(datum.value)","title":"log(α)","titlePadding":13}}}},
     {"data":{"name":"ell_bot"},"mark":{"type":"line","strokeWidth":1.5,"interpolate":"cardinal-closed"},
      "encoding":{"x":{"field":"x","type":"quantitative"},"y":{"field":"y","type":"quantitative"},"order":{"field":"i","type":"quantitative"},"color":{"field":"cond","type":"nominal","scale":{"domain":["MIXED","REPEATED"],"range":["#ED1C24","#3C4BA8"]},"legend":null}}},
     {"data":{"name":"sc_bot"},"mark":{"type":"point","filled":true,"size":65,"opacity":1},
      "encoding":{"x":{"field":"x","type":"quantitative"},"y":{"field":"y","type":"quantitative"},"color":{"field":"cond","type":"nominal","scale":{"domain":["MIXED","REPEATED"],"range":["#ED1C24","#3C4BA8"]},"legend":null}}}
    ]}
  ]
 }
]
}
